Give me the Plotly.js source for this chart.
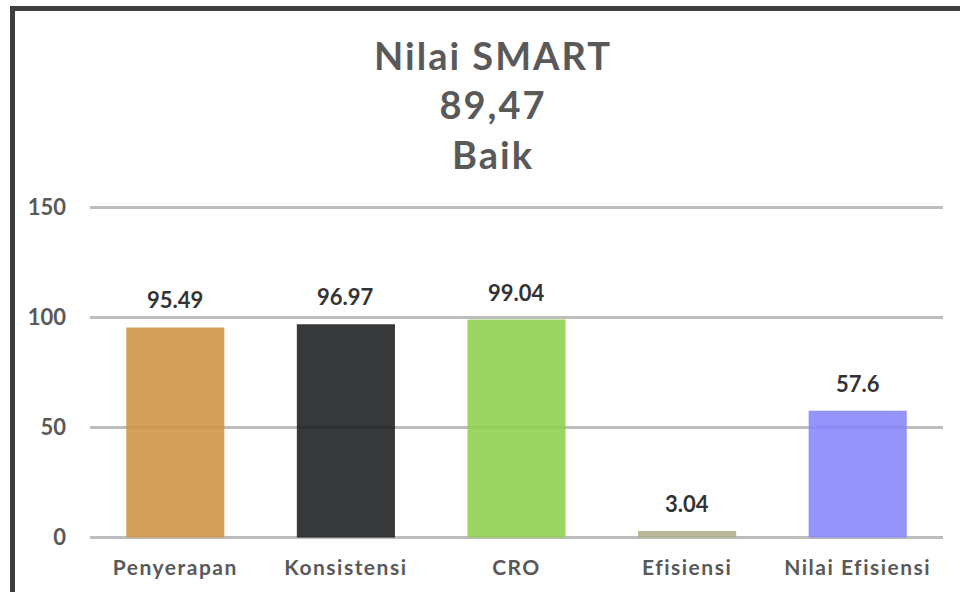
<!DOCTYPE html>
<html><head><meta charset="utf-8">
<script src="https://cdn.plot.ly/plotly-3.0.1.min.js"></script>
<style>
html,body{margin:0;padding:0;background:#fff;}
#wrap{position:absolute;left:0;top:0;width:960px;height:592px;overflow:hidden;}
#frame{position:absolute;left:10px;top:6px;width:1000px;height:700px;border-left:5px solid #3e3e3e;border-top:5px solid #3e3e3e;}
#chart{position:absolute;left:0;top:0;width:960px;height:592px;}
#chart .xtick text{letter-spacing:1.5px;}
#chart .gtitle{letter-spacing:2px;}
</style></head>
<body>
<div id="wrap"><div id="frame"></div><div id="chart"></div></div>
<script>
const categories = ["Penyerapan", "Konsistensi", "CRO", "Efisiensi", "Nilai Efisiensi"];
const values = [95.49, 96.97, 99.04, 3.04, 57.6];
const valueLabels = ["95.49", "96.97", "99.04", "3.04", "57.6"];
const barColors = ["#CE9443", "#1A1C1F", "#90CF4D", "#AFAD89", "#8585F9"];
const yTicks = [0, 50, 100, 150];
const titleLines = ["Nilai SMART", "89,47", "Baik"];

const FONT = "Lato, 'Century Gothic', 'DejaVu Sans', sans-serif";

const trace = {
  type: "bar",
  x: categories,
  y: values,
  marker: {color: barColors, line: {width: 0}, opacity: 0.88},
  hoverinfo: "skip"
};

const labelAnnotations = categories.map((c, i) => ({
  x: c, y: values[i], xref: "x", yref: "y",
  text: "<b>" + valueLabels[i] + "</b>",
  showarrow: false, xanchor: "center", yanchor: "bottom", yshift: 12,
  font: {family: FONT, size: 22, color: "#333333"}
}));

const layout = {
  width: 960, height: 592,
  paper_bgcolor: "rgba(0,0,0,0)",
  plot_bgcolor: "rgba(0,0,0,0)",
  margin: {l: 90, r: 17, t: 203, b: 50},
  showlegend: false,
  bargap: 0.425,
  title: {
    text: titleLines.map(s => "<b>" + s + "</b>").join("<br>"),
    font: {family: FONT, size: 38, color: "#595959"},
    x: 493/960, xanchor: "center", xref: "container",
    y: 1 - 70/592, yanchor: "top", yref: "container"
  },
  annotations: labelAnnotations,
  xaxis: {
    type: "category",
    showgrid: false, zeroline: false, showline: false, ticks: "",
    ticklabelstandoff: 11,
    tickfont: {family: FONT, size: 21, color: "#595959", weight: "bold"},
    fixedrange: true
  },
  yaxis: {
    range: [-2, 152],
    tickvals: yTicks,
    ticktext: yTicks.map(String),
    showgrid: true, gridcolor: "#bdbdbd", gridwidth: 2.5,
    zeroline: false, showline: false, ticks: "",
    ticklabelstandoff: 23,
    tickfont: {family: FONT, size: 22, color: "#595959", weight: "bold"},
    fixedrange: true
  }
};

Plotly.newPlot("chart", [trace], layout, {displayModeBar: false, staticPlot: true});
</script>
</body></html>
